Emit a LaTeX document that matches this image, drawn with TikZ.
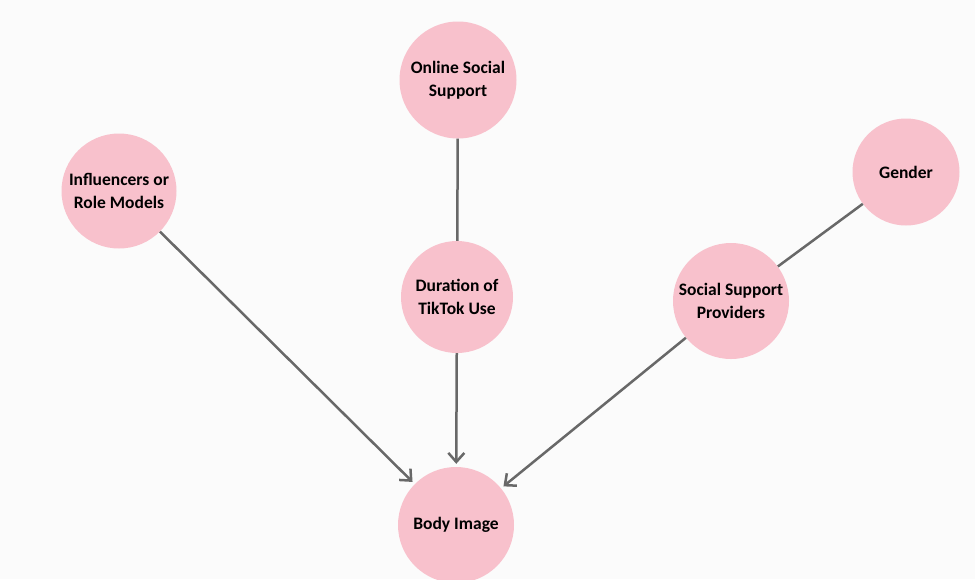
\documentclass[tikz,border=0pt]{standalone}
\usepackage{fontspec}
\setmainfont{Carlito}
\usetikzlibrary{arrows.meta}
\definecolor{nodepink}{HTML}{F8C1CC}
\definecolor{edgegray}{HTML}{686868}
\definecolor{bg}{HTML}{FBFBFB}
\tikzset{
  var/.style={circle, fill=nodepink, draw=none, inner sep=0pt, minimum size=#1,
    align=center, font=\fontsize{17.5}{23}\selectfont\bfseries, text=black},
  var/.default=115pt,
  link/.style={draw=edgegray, line width=2.5pt},
  arrowlink/.style={link, -{Straight Barb[length=9pt, width=16pt, line width=2.5pt]}, shorten >=3pt},
}
\begin{document}
\begin{tikzpicture}[x=1pt, y=-1pt]
\fill[bg] (0,0) rectangle (975,579);
\useasboundingbox (0,0) rectangle (975,579);
\node[var=117pt] (oss) at (458,80) {Online Social\\Support};
\node[var=115pt] (inf) at (119,191) {Influencers or\\Role Models};
\node[var=112pt] (dur) at (457,297) {Duration of\\TikTok Use};
\node[var=107pt] (gen) at (906,172) {Gender};
\node[var=116pt] (ssp) at (731,301) {Social Support\\Providers};
\node[var=116pt] (bod) at (456,525) {Body Image};
\draw[link] (oss) -- (dur);
\draw[link] (gen) -- (ssp);
\draw[arrowlink] (inf) -- (bod);
\draw[arrowlink] (dur) -- (bod);
\draw[arrowlink] (ssp) -- (bod);
\end{tikzpicture}
\end{document}
